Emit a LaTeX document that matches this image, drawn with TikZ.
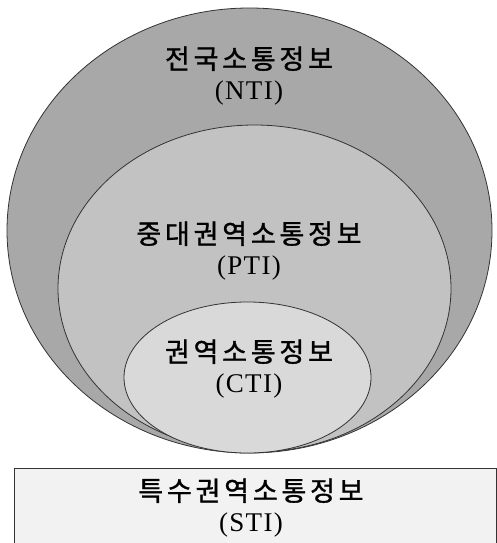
\documentclass[tikz,border=0pt]{standalone}
\usepackage{fontspec}
\setmainfont{Liberation Serif}[LetterSpace=5]
\newfontfamily\kr{Noto Sans CJK KR}[LetterSpace=14, FakeBold=1.2]
\usetikzlibrary{shapes.geometric,positioning}

\begin{document}
\begin{tikzpicture}[x=1pt,y=-1pt,
    zone/.style={ellipse, draw=black!80, line width=0.8pt, inner sep=0pt},
    tag/.style={align=center, font=\fontsize{27}{31}\selectfont, text=black}
]
\useasboundingbox (0,0) rectangle (497,543);
\fill[white] (0,0) rectangle (497,543);

% Nested regions
\node[zone, fill=black!34, minimum width=485pt, minimum height=445pt] (nti) at (249.5,230.5) {};
\node[zone, fill=black!24, minimum width=393pt, minimum height=327pt] (pti) at (254.5,288.5) {};
\node[zone, fill=black!15, minimum width=247pt, minimum height=151pt] (cti) at (247.5,377.5) {};

% Special region box
\begin{scope}
\clip (0,0) rectangle (497,543);
\draw[draw=black!80, line width=0.8pt, fill=black!5] (14,468) rectangle (496,560);
\coordinate (box) at (251,508);
\end{scope}

% Labels
\node[tag] (ntilabel) at (249,76) {{\kr 전국소통정보}\\(NTI)};
\node[tag] (ptilabel) at (249,251) {{\kr 중대권역소통정보}\\(PTI)};
\node[tag] (ctilabel) at (249,369) {{\kr 권역소통정보}\\(CTI)};
\node[tag] (stilabel) at (box) {{\kr 특수권역소통정보}\\(STI)};

\end{tikzpicture}
\end{document}
